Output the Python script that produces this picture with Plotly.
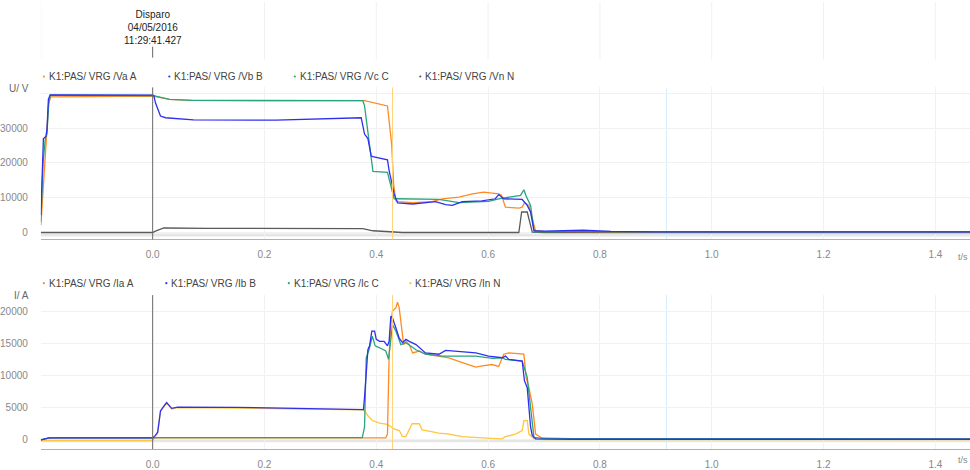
import plotly.graph_objects as go

# ---------------- data ----------------
# Voltages (V) vs time (s)
va_t = [-0.2, -0.195, -0.19, -0.186, -0.182, 0.0, 0.03, 0.07, 0.2, 0.34, 0.379, 0.42, 0.426, 0.4275,
        0.431, 0.435, 0.44, 0.465, 0.5, 0.518, 0.548, 0.572, 0.592, 0.613, 0.619, 0.624, 0.631, 0.655,
        0.661, 0.665, 0.673, 0.679, 0.685, 0.7, 0.76, 0.8, 0.9, 1.0, 1.2, 1.462]
va_v = [2000, 15000, 27800, 37300, 39000, 39200, 38300, 38000, 37900, 37900, 37900, 36400, 28300, 25400,
        14000, 9200, 8900, 8600, 8900, 9700, 10200, 11100, 11600, 11300, 11100, 10700, 7300, 7000,
        7300, 8600, 7800, 4000, 500, 300, 400, 250, 200, 200, 200, 200]

vb_t = [-0.2, -0.197, -0.1954, -0.191, -0.189, -0.1865, -0.1834, 0.0, 0.002, 0.005, 0.011, 0.014, 0.023,
        0.073, 0.221, 0.34, 0.373, 0.379, 0.385, 0.391, 0.394, 0.42, 0.423, 0.432, 0.438, 0.465, 0.506,
        0.524, 0.536, 0.554, 0.589, 0.613, 0.619, 0.628, 0.661, 0.67, 0.676, 0.682, 0.7, 0.77, 0.82,
        0.9, 1.462]
vb_v = [5000, 17400, 27000, 27600, 29700, 38300, 39600, 39500, 39400, 37300, 35000, 33500, 33000,
        32400, 32300, 32750, 33000, 28300, 27000, 22000, 21800, 20900, 17800, 11100, 8500, 8200, 8900,
        8000, 7800, 8900, 9100, 9700, 10900, 9700, 9500, 7800, 5900, 500, 400, 650, 300,
        200, 200]

vc_t = [-0.2, -0.196, -0.192, -0.189, -0.186, -0.183, 0.0, 0.03, 0.07, 0.34, 0.376, 0.379, 0.381, 0.385,
        0.39, 0.394, 0.42, 0.425, 0.432, 0.438, 0.512, 0.548, 0.601, 0.619, 0.643, 0.658, 0.664, 0.668,
        0.676, 0.682, 0.684, 0.75, 0.9, 1.462]
vc_v = [3000, 20000, 27000, 28500, 37000, 39500, 39400, 38300, 38000, 37900, 37900, 36400, 34000, 28300,
        23500, 17600, 17300, 14000, 9700, 9700, 9500, 8600, 8950, 9700, 10200, 10700, 12300, 10500,
        7800, 700, 200, 300, 200, 200]

vn_t = [-0.2, 0.0, 0.005, 0.02, 0.1, 0.364, 0.376, 0.394, 0.423, 0.447, 0.655, 0.66, 0.67, 0.679, 0.7, 1.462]
vn_v = [0, 0, 400, 1300, 1200, 1150, 1100, 500, 200, 0, 0, 5900, 5900, 100, 0, 0]

# Currents (A) vs time (s)
ia_t = [-0.2, -0.185, 0.0, 0.417, 0.42, 0.423, 0.426, 0.429, 0.435, 0.438, 0.441, 0.446, 0.449, 0.453,
        0.459, 0.465, 0.477, 0.488, 0.512, 0.53, 0.554, 0.578, 0.59, 0.607, 0.619, 0.628, 0.637, 0.655,
        0.664, 0.668, 0.673, 0.679, 0.685, 0.696, 0.75, 0.9, 1.462]
ia_v = [0, 300, 300, 300, 900, 13300, 17900, 20000, 20500, 21400, 20500, 16900, 14800, 15300,
        14800, 13500, 13800, 13300, 13000, 12750, 12000, 11300, 11500, 11700, 11400, 13300, 13500, 13400,
        13300, 9700, 8100, 5550, 900, 300, 200, 150, 150]

ib_t = [-0.2, -0.185, 0.0, 0.005, 0.009, 0.014, 0.018, 0.025, 0.034, 0.045, 0.15, 0.322, 0.377, 0.379,
        0.382, 0.385, 0.388, 0.392, 0.397, 0.4, 0.406, 0.414, 0.42, 0.423, 0.426, 0.429, 0.435, 0.441,
        0.447, 0.453, 0.459, 0.471, 0.488, 0.512, 0.524, 0.548, 0.578, 0.601, 0.625, 0.631, 0.637, 0.661,
        0.665, 0.67, 0.676, 0.679, 0.685, 0.75, 1.462]
ib_v = [0, 300, 300, 700, 1200, 4500, 5000, 5800, 4900, 5100, 5050, 4800, 4700, 6600,
        10700, 14000, 14600, 16900, 16900, 15600, 15300, 15300, 14600, 15300, 19200, 18900, 17400, 15800,
        15100, 15600, 15300, 14800, 13500, 13300, 13900, 13700, 13500, 13000, 12750, 13000, 12500, 12250,
        9200, 8100, 2000, 700, 150, 100, 100]

ic_t = [-0.2, -0.185, 0.0, 0.01, 0.375, 0.379, 0.382, 0.387, 0.393, 0.398, 0.406, 0.417, 0.422, 0.426,
        0.429, 0.435, 0.444, 0.453, 0.471, 0.488, 0.518, 0.578, 0.608, 0.625, 0.631, 0.661, 0.67, 0.676,
        0.682, 0.7, 1.462]
ic_v = [0, 300, 300, 350, 350, 2000, 12750, 14000, 16100, 14600, 14300, 13800, 12500, 15100,
        17900, 16900, 14800, 15100, 14000, 13300, 13000, 13000, 12650, 12750, 12500, 12250, 9700, 5050,
        400, 200, 150]

in_t = [-0.2, 0.0, 0.005, 0.009, 0.014, 0.018, 0.025, 0.034, 0.045, 0.15, 0.322, 0.377, 0.379, 0.385,
        0.393, 0.406, 0.42, 0.426, 0.432, 0.441, 0.447, 0.453, 0.459, 0.464, 0.477, 0.482, 0.494, 0.512,
        0.53, 0.554, 0.59, 0.625, 0.631, 0.649, 0.661, 0.664, 0.67, 0.673, 0.682, 0.7, 1.462]
in_v = [-100, -100, 600, 1100, 4400, 4900, 5700, 4800, 5000, 4950, 4650, 4650, 4500, 3750,
        3000, 2600, 2400, 2000, 1700, 1450, 500, 500, 1700, 2500, 2500, 1550, 1350, 1050,
        900, 500, 300, 150, 500, 900, 1450, 3000, 3000, 900, 150, 50, 50]

volt_names = ["K1:PAS/ VRG /Va A", "K1:PAS/ VRG /Vb B", "K1:PAS/ VRG /Vc C", "K1:PAS/ VRG /Vn N"]
curr_names = ["K1:PAS/ VRG /Ia A", "K1:PAS/ VRG /Ib B", "K1:PAS/ VRG /Ic C", "K1:PAS/ VRG /In N"]

x_ticks = [-0.2, 0.0, 0.2, 0.4, 0.6, 0.8, 1.0, 1.2, 1.4]
x_labels = ["", "0.0", "0.2", "0.4", "0.6", "0.8", "1.0", "1.2", "1.4"]
u_ticks = [0, 10000, 20000, 30000, 40000]
u_labels = ["0", "10000", "20000", "30000", ""]
i_ticks = [0, 5000, 10000, 15000, 20000]
i_labels = ["0", "5000", "10000", "15000", "20000"]

trip_time = 0.0
trip_text = "Disparo<br>04/05/2016<br>11:29:41.427"
cursor_time = 0.429
marker_time = 0.919

# ---------------- styling ----------------
W, H = 970, 470
ORANGE = "#ff8a24"
BLUE = "#2f2ff2"
GREEN = "#2aa47c"
GRAY = "#5a5a5a"
YELLOW = "#ffc63f"
FONT = "Liberation Sans, Arial, sans-serif"


def yp(pix):
    return 1 - pix / H


def xp(pix):
    return pix / W


fig = go.Figure()

volt_series = [(va_t, va_v, ORANGE), (vb_t, vb_v, BLUE), (vc_t, vc_v, GREEN), (vn_t, vn_v, GRAY)]
curr_series = [(ia_t, ia_v, ORANGE), (ib_t, ib_v, BLUE), (ic_t, ic_v, GREEN), (in_t, in_v, YELLOW)]

# drawing order: neutral first so the phases sit on top
for idx in [3, 0, 2, 1]:
    t, v, c = volt_series[idx]
    fig.add_trace(go.Scatter(x=t, y=v, mode="lines", name=volt_names[idx],
                             line=dict(color=c, width=1.3), xaxis="x", yaxis="y",
                             showlegend=False, hoverinfo="skip"))
for idx in [3, 0, 2, 1]:
    t, v, c = curr_series[idx]
    fig.add_trace(go.Scatter(x=t, y=v, mode="lines", name=curr_names[idx],
                             line=dict(color=c, width=1.3), xaxis="x2", yaxis="y2",
                             showlegend=False, hoverinfo="skip"))

xcommon = dict(range=[-0.2, 1.462], tickvals=x_ticks, ticktext=x_labels, showgrid=True,
               gridcolor="#f1f1f1", gridwidth=1, zeroline=False, showline=True,
               linecolor="#b0b0b0", linewidth=1, ticks="", ticklabelstandoff=6,
               tickfont=dict(size=10, color="#888", family=FONT), domain=[xp(37), 1])
ycommon = dict(showgrid=True, gridcolor="#f1f1f1", gridwidth=1, zeroline=False, showline=False,
               ticks="", ticklabelstandoff=12, tickfont=dict(size=10, color="#888", family=FONT))

fig.update_layout(
    width=W, height=H, margin=dict(l=0, r=0, t=0, b=0),
    paper_bgcolor="white", plot_bgcolor="white", showlegend=False,
    font=dict(family=FONT),
    xaxis=dict(anchor="y", **xcommon),
    xaxis2=dict(anchor="y2", **xcommon),
    yaxis=dict(anchor="x", domain=[yp(241), yp(88)], range=[-2000, 41714],
               tickvals=u_ticks, ticktext=u_labels, **ycommon),
    yaxis2=dict(anchor="x2", domain=[yp(452), yp(297)], range=[-1435, 22480],
                tickvals=i_ticks, ticktext=i_labels, **ycommon),
)

shapes = []
# faint grid in the event strip at the top
for xv in x_ticks:
    if xv != trip_time:
        shapes.append(dict(type="line", xref="x", yref="paper", x0=xv, x1=xv,
                           y0=yp(60), y1=yp(2), line=dict(color="#f1f1f1", width=1), layer="below"))
shapes.append(dict(type="line", xref="x", yref="paper", x0=trip_time, x1=trip_time,
                   y0=yp(58), y1=yp(47), line=dict(color="#666", width=1)))

for xa, ya, ylow in [("x", "y", -700), ("x2", "y2", -150)]:
    # light band just under zero
    shapes.append(dict(type="line", xref=xa + " domain", yref=ya, x0=0, x1=1, y0=ylow, y1=ylow,
                       line=dict(color="#e6e6e6", width=3), layer="below"))
    shapes.append(dict(type="line", xref=xa, yref=ya + " domain", x0=trip_time, x1=trip_time,
                       y0=0, y1=1, line=dict(color="#6a6a6a", width=1)))
    shapes.append(dict(type="line", xref=xa, yref=ya + " domain", x0=cursor_time, x1=cursor_time,
                       y0=0, y1=1, line=dict(color="#ffd27a", width=1)))
    shapes.append(dict(type="line", xref=xa, yref=ya + " domain", x0=marker_time, x1=marker_time,
                       y0=0, y1=1, line=dict(color="#d6ecf9", width=1), layer="below"))

annotations = [
    dict(text=trip_text, x=trip_time, xref="x", y=yp(27.5), yref="paper",
         showarrow=False, xanchor="center", yanchor="middle",
         font=dict(size=10, color="#222", family=FONT)),
    dict(text="U/ V", x=xp(27), xref="paper", y=yp(89), yref="paper", showarrow=False,
         xanchor="right", yanchor="middle", font=dict(size=10, color="#666", family=FONT)),
    dict(text="I/ A", x=xp(27), xref="paper", y=yp(297), yref="paper", showarrow=False,
         xanchor="right", yanchor="middle", font=dict(size=10, color="#666", family=FONT)),
    dict(text="t/s", x=1, xref="paper", y=yp(259), yref="paper", showarrow=False,
         xanchor="right", yanchor="middle", font=dict(size=9, color="#888", family=FONT)),
    dict(text="t/s", x=1, xref="paper", y=yp(463), yref="paper", showarrow=False,
         xanchor="right", yanchor="middle", font=dict(size=9, color="#888", family=FONT)),
]

# legend rows
volt_leg_x = [40, 166, 292, 418]
curr_leg_x = [40, 163, 286, 408]
for names, series, xs, ypix in [(volt_names, volt_series, volt_leg_x, 77),
                                (curr_names, curr_series, curr_leg_x, 285)]:
    for name, (_, _, c), mx in zip(names, series, xs):
        shapes.append(dict(type="circle", xref="paper", yref="paper",
                           x0=xp(mx - 1.1), x1=xp(mx + 1.1), y0=yp(ypix + 1.1), y1=yp(ypix - 1.1),
                           fillcolor=c, line=dict(width=0)))
        annotations.append(dict(text=name, x=xp(mx + 3), xref="paper", y=yp(ypix), yref="paper",
                                showarrow=False, xanchor="left", yanchor="middle",
                                font=dict(size=10, color="#444", family=FONT)))

fig.update_layout(shapes=shapes, annotations=annotations)
fig.write_html("out.html")
